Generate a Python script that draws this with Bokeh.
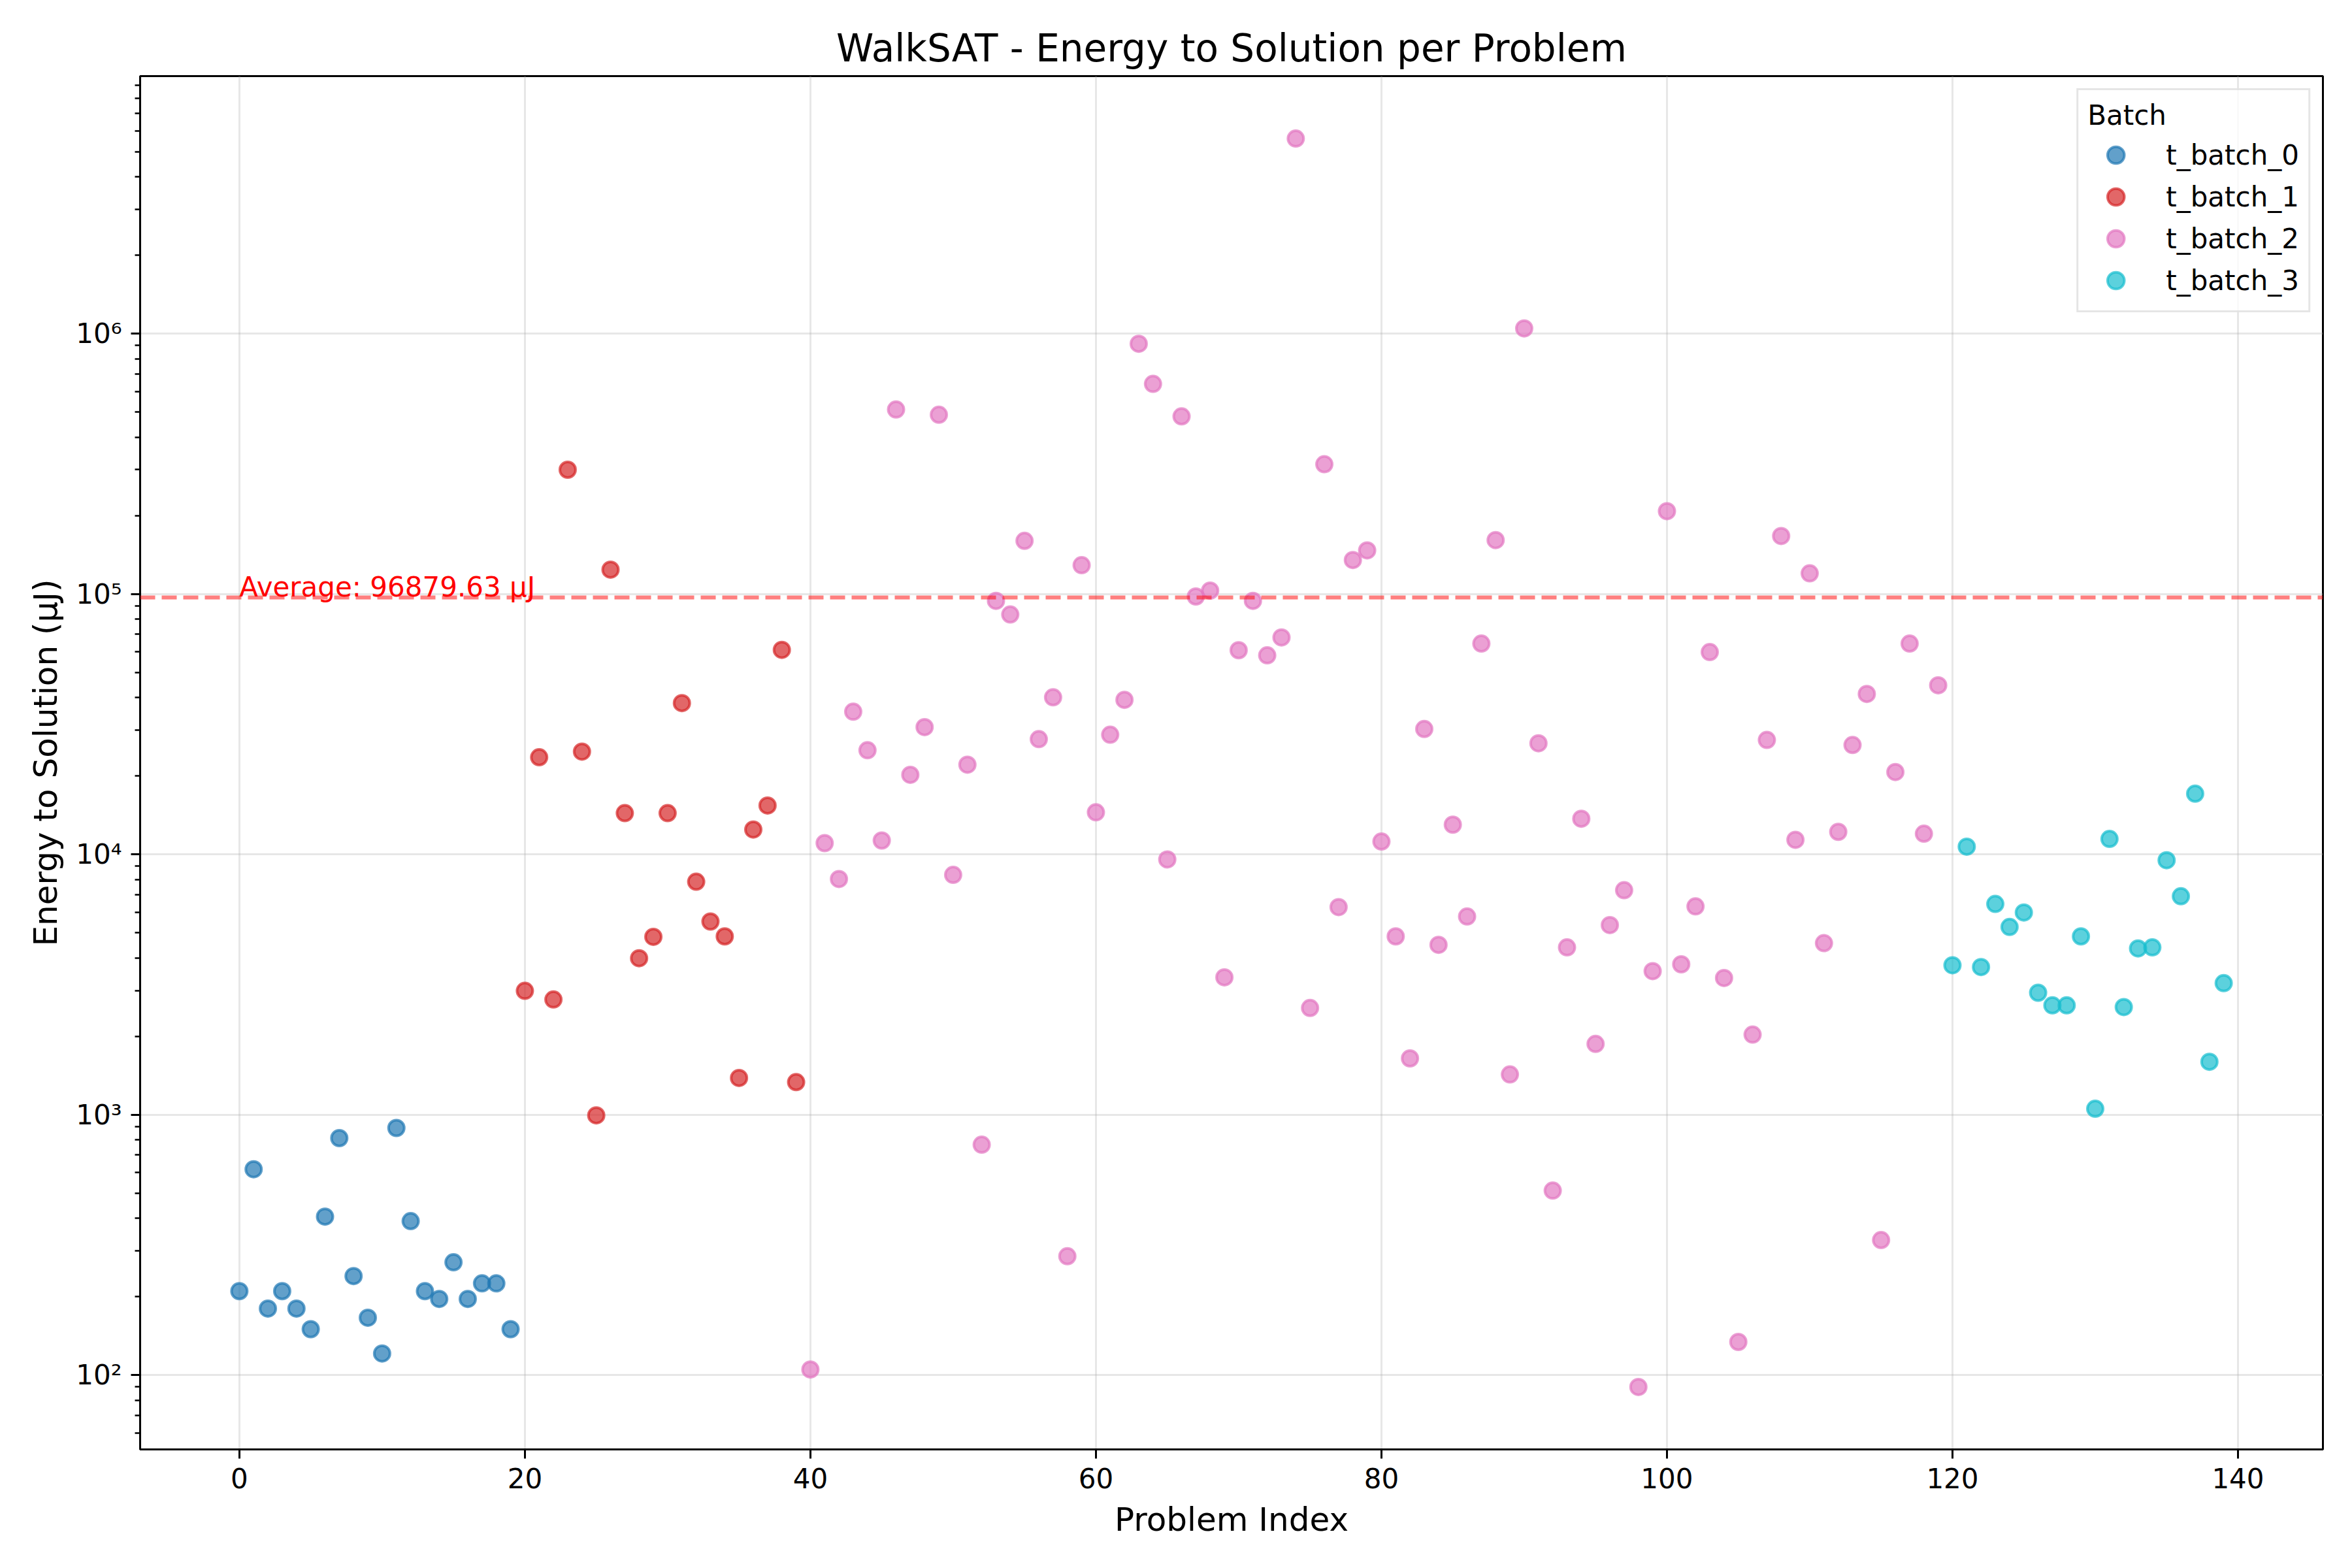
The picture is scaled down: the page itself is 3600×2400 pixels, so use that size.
import numpy as np
from bokeh.plotting import figure
from bokeh.models import Range1d, FixedTicker, Span, Label
from bokeh.embed import file_html
from bokeh.resources import INLINE

# energy to solution (uJ) per problem
batch_names = ["t_batch_0", "t_batch_1", "t_batch_2", "t_batch_3"]
batch_colors = ["#1f77b4", "#d62728", "#e377c2", "#17becf"]

t_batch_0 = [210, 617, 180, 210, 180, 150, 406, 813, 240, 166,
             121, 889, 390, 210, 196, 271, 196, 225, 225, 150]
t_batch_1 = [2990, 23600, 2770, 300000, 24800, 994, 124000, 14400, 3990, 4820,
             14400, 38100, 7850, 5520, 4840, 1384, 12450, 15400, 61000, 1334]
t_batch_2 = [105, 11040, 8040, 35300, 25100, 11300, 511000, 20200, 30800, 488000,
             8340, 22100, 767, 94100, 83400, 160000, 27700, 40100, 286, 129000,
             14500, 28800, 39200, 914000, 641000, 9560, 481000, 97800, 103000, 3370,
             60800, 94100, 58100, 68100, 5611225, 2570, 315000, 6270, 135000, 147000,
             11200, 4840, 1645, 30300, 4490, 13000, 5770, 64500, 161000, 1427,
             1047000, 26700, 511, 4390, 13700, 1870, 5350, 7280, 90, 3560,
             208000, 3780, 6310, 59800, 3350, 134, 2030, 27500, 167000, 11370,
             120000, 4560, 12200, 26300, 41300, 330, 20700, 64500, 12000, 44600]
t_batch_3 = [3750, 10700, 3690, 6450, 5260, 5980, 2940, 2630, 2630, 4840,
             1054, 11460, 2590, 4350, 4390, 9490, 6900, 17100, 1597, 3200]

batches = [t_batch_0, t_batch_1, t_batch_2, t_batch_3]
all_energy = np.concatenate([np.array(b, dtype=float) for b in batches])
avg = all_energy.mean()

x_ticks = [0, 20, 40, 60, 80, 100, 120, 140]
y_ticks = [1e2, 1e3, 1e4, 1e5, 1e6]
y_tick_labels = {1e2: "10²", 1e3: "10³", 1e4: "10⁴", 1e5: "10⁵", 1e6: "10⁶"}

FONT = "DejaVu Sans"

p = figure(width=3600, height=2400, y_axis_type="log",
           x_range=Range1d(-6.95, 145.95), y_range=Range1d(51.8, 9.75e6),
           output_backend="svg", toolbar_location=None,
           min_border_left=214, min_border_right=45,
           min_border_top=116, min_border_bottom=182)

p.title.text = "WalkSAT - Energy to Solution per Problem"
p.title.align = "center"
p.title.text_font = FONT
p.title.text_font_size = "58px"
p.title.text_font_style = "normal"
p.title.text_color = "black"
p.title.standoff = 17

start = 0
for name, color, vals in zip(batch_names, batch_colors, batches):
    idx = list(range(start, start + len(vals)))
    start += len(vals)
    p.scatter(idx, vals, size=24, fill_color=color, fill_alpha=0.7,
              line_color=color, line_alpha=0.7, line_width=4, legend_label=name)

p.add_layout(Span(location=avg, dimension="width", line_color="red", line_alpha=0.5,
                  line_dash="23 10", line_width=6))
p.add_layout(Label(x=0, y=avg * 1.1, text=f"Average: {avg:.2f} μJ", text_color="red",
                   text_font=FONT, text_font_size="42px", text_baseline="alphabetic",
                   text_align="left"))

# axes
p.xaxis.ticker = FixedTicker(ticks=x_ticks)
minor = [m * 10.0 ** e for e in range(1, 7) for m in range(2, 10)]
p.yaxis.ticker = FixedTicker(ticks=y_ticks, minor_ticks=minor)
p.yaxis.major_label_overrides = y_tick_labels
p.xaxis.axis_label = "Problem Index"
p.yaxis.axis_label = "Energy to Solution (μJ)"
for ax in (p.xaxis, p.yaxis):
    ax.axis_label_text_font = FONT
    ax.axis_label_text_font_size = "50px"
    ax.axis_label_text_font_style = "normal"
    ax.axis_label_text_color = "black"
    ax.major_label_text_font = FONT
    ax.major_label_text_font_size = "42px"
    ax.major_label_text_color = "black"
    ax.axis_line_width = 3
    ax.axis_line_color = "black"
    ax.major_tick_line_width = 3
    ax.major_tick_line_color = "black"
    ax.major_tick_out = 14
    ax.major_tick_in = 0
    ax.minor_tick_line_width = 2.5
    ax.minor_tick_line_color = "black"
    ax.minor_tick_out = 8
    ax.minor_tick_in = 0
    ax.major_label_standoff = 14
p.xaxis.minor_tick_line_color = None
p.xaxis.axis_label_standoff = 16
p.yaxis.axis_label_standoff = 14

p.xgrid.ticker = FixedTicker(ticks=x_ticks)
p.ygrid.ticker = FixedTicker(ticks=y_ticks)
for g in (p.xgrid, p.ygrid):
    g.grid_line_color = "#b0b0b0"
    g.grid_line_alpha = 0.3
    g.grid_line_width = 3

p.outline_line_color = "black"
p.outline_line_width = 3
p.background_fill_color = "white"
p.border_fill_color = "white"

# legend
lg = p.legend[0]
lg.location = "top_right"
lg.margin = 19
lg.padding = 14
lg.title = "Batch"
lg.title_text_font = FONT
lg.title_text_font_size = "42px"
lg.title_text_font_style = "normal"
lg.title_text_color = "black"
lg.title_standoff = 4
lg.label_text_font = FONT
lg.label_text_font_size = "42px"
lg.label_text_color = "black"
lg.glyph_width = 86
lg.glyph_height = 64
lg.label_standoff = 34
lg.label_height = 64
lg.spacing = 0
lg.border_line_color = "#cccccc"
lg.border_line_width = 3
lg.background_fill_alpha = 0.8

open("out.html", "w").write(file_html(p, INLINE))
